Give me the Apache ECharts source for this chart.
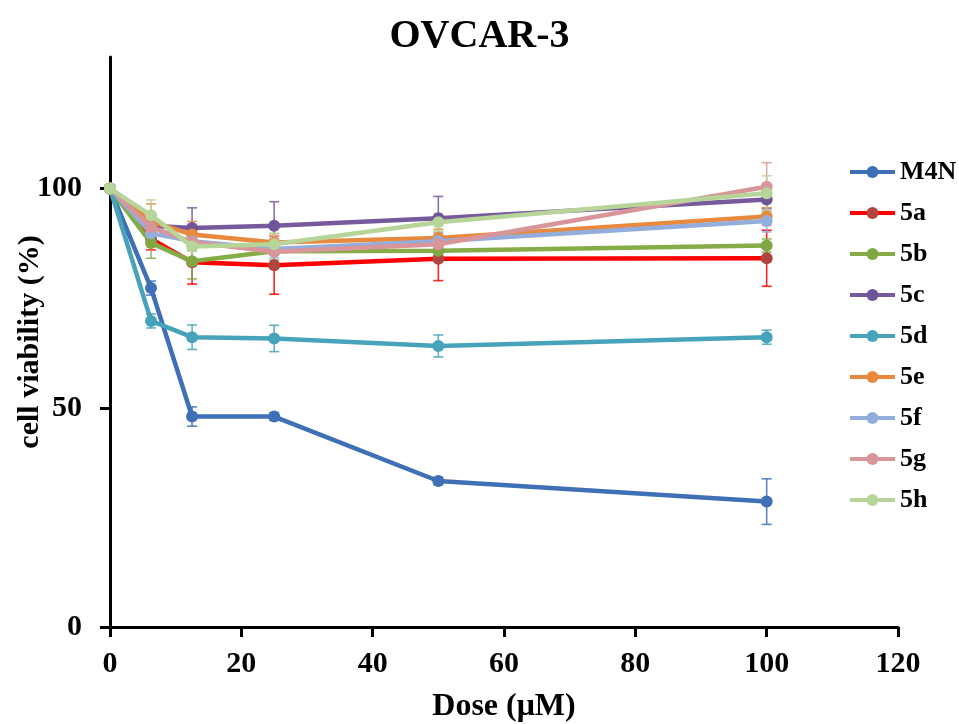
<!DOCTYPE html>
<html>
<head>
<meta charset="utf-8">
<script src="https://cdn.jsdelivr.net/npm/echarts@6/dist/echarts.min.js"></script>
<style>
html,body{margin:0;padding:0;background:#fff;}
#chart{width:959px;height:724px;}
</style>
</head>
<body>
<div id="chart"></div>
<script>
// ---- data ----
const doses = [0, 6.25, 12.5, 25, 50, 100];
const seriesNames = ['M4N', '5a', '5b', '5c', '5d', '5e', '5f', '5g', '5h'];
const M4N = [100, 77.3, 48.0, 48.0, 33.3, 28.6];
const M4N_err = [0, 1.6, 2.2, 0.9, 0.8, 5.2];
const s5a = [100, 88.5, 83.2, 82.5, 84.0, 84.1];
const s5a_err = [0, 2.5, 5.0, 6.6, 5.0, 6.4];
const s5b = [100, 87.6, 83.4, 85.7, 85.8, 87.0];
const s5b_err = [0, 3.5, 4.0, 2.0, 1.5, 1.5];
const s5c = [100, 91.5, 91.0, 91.5, 93.2, 97.5];
const s5c_err = [0, 2.0, 4.6, 5.5, 5.0, 2.0];
const s5d = [100, 69.8, 66.1, 65.8, 64.1, 66.1];
const s5d_err = [0, 1.6, 2.8, 3.0, 2.5, 1.6];
const s5e = [100, 92.5, 89.5, 87.7, 88.7, 93.6];
const s5e_err = [0, 4.0, 3.0, 2.0, 2.0, 2.0];
const s5f = [100, 89.8, 88.0, 86.2, 88.0, 92.6];
const s5f_err = [0, 2.0, 2.0, 2.0, 2.0, 2.5];
const s5g = [100, 91.2, 87.8, 85.6, 87.3, 100.4];
const s5g_err = [0, 3.0, 2.0, 3.5, 2.5, 5.5];
const s5h = [100, 93.9, 86.8, 87.3, 92.3, 98.9];
const s5h_err = [0, 3.5, 3.0, 2.5, 2.0, 4.0];
const xTicks = [0, 20, 40, 60, 80, 100, 120];
const yTicks = [0, 50, 100];

const values = [M4N, s5a, s5b, s5c, s5d, s5e, s5f, s5g, s5h];
const errors = [M4N_err, s5a_err, s5b_err, s5c_err, s5d_err, s5e_err, s5f_err, s5g_err, s5h_err];
const lineColors = ['#3F6FB5', '#FF0000', '#86AC48', '#77599D', '#46A3BA', '#E8893D', '#93AEDC', '#D8969A', '#B7D599'];
const markerColors = ['#3F6FB5', '#B0443F', '#80A744', '#6F5598', '#46A3BA', '#E8893D', '#93AEDC', '#D8969A', '#B7D599'];

const FONT = '"Liberation Serif", "Times New Roman", serif';

const series = [];
// error bars first (drawn underneath)
seriesNames.forEach((name, k) => {
  const data = [];
  doses.forEach((d, i) => {
    if (errors[k][i] > 0) data.push([d, values[k][i] - errors[k][i], values[k][i] + errors[k][i]]);
  });
  const col = lineColors[k];
  series.push({
    type: 'custom',
    name: name + ' err',
    z: 1,
    silent: true,
    data: data,
    encode: { x: 0, y: [1, 2] },
    renderItem: function (params, api) {
      const x = api.value(0);
      const lo = api.coord([x, api.value(1)]);
      const hi = api.coord([x, api.value(2)]);
      const w = 5;
      const st = { stroke: col, lineWidth: 1.6, opacity: 0.85 };
      return {
        type: 'group',
        children: [
          { type: 'line', shape: { x1: hi[0], y1: hi[1], x2: lo[0], y2: lo[1] }, style: st },
          { type: 'line', shape: { x1: hi[0] - w, y1: hi[1], x2: hi[0] + w, y2: hi[1] }, style: st },
          { type: 'line', shape: { x1: lo[0] - w, y1: lo[1], x2: lo[0] + w, y2: lo[1] }, style: st }
        ]
      };
    }
  });
});
seriesNames.forEach((name, k) => {
  series.push({
    type: 'line',
    name: name,
    z: 2 + k * 0.01,
    data: doses.map((d, i) => [d, values[k][i]]),
    symbol: 'circle',
    symbolSize: 12,
    showAllSymbol: true,
    lineStyle: { color: lineColors[k], width: 4.5 },
    itemStyle: { color: markerColors[k] },
    emphasis: { disabled: true }
  });
});

const chart = echarts.init(document.getElementById('chart'), null, { renderer: 'canvas' });
chart.setOption({
  animation: false,
  backgroundColor: '#fff',
  title: {
    text: 'OVCAR-3',
    left: 'center',
    top: 12,
    textStyle: { fontFamily: FONT, fontWeight: 'bold', fontSize: 40, color: '#000' }
  },
  legend: {
    orient: 'vertical',
    left: 843,
    top: 154,
    itemWidth: 45,
    itemHeight: 15,
    itemGap: 15,
    data: seriesNames,
    lineStyle: { width: 4 },
    textStyle: { fontFamily: FONT, fontWeight: 'bold', fontSize: 26, color: '#000' }
  },
  grid: { left: 110, right: 61, top: 57, bottom: 97, containLabel: false, outerBoundsMode: 'none' },
  xAxis: {
    type: 'value',
    min: 0, max: 120, interval: 20,
    name: 'Dose (\u03bcM)',
    nameLocation: 'middle',
    nameGap: 64,
    nameMoveOverlap: false,
    nameTextStyle: { fontFamily: FONT, fontWeight: 'bold', fontSize: 32, color: '#000' },
    axisLine: { show: true, lineStyle: { color: '#000', width: 3 } },
    axisTick: { show: true, inside: false, length: 10, lineStyle: { color: '#000', width: 3 } },
    axisLabel: { margin: 22, fontFamily: FONT, fontWeight: 'bold', fontSize: 30, color: '#000', customValues: xTicks },
    splitLine: { show: false }
  },
  yAxis: {
    type: 'value',
    min: 0, max: 130, interval: 50,
    name: 'cell viability (%)',
    nameLocation: 'middle',
    nameGap: 65,
    nameMoveOverlap: false,
    nameTextStyle: { fontFamily: FONT, fontWeight: 'bold', fontSize: 30, color: '#000' },
    axisLine: { show: true, lineStyle: { color: '#000', width: 3 } },
    axisTick: { show: true, inside: false, length: 10, lineStyle: { color: '#000', width: 3 }, customValues: yTicks },
    axisLabel: { margin: 28, fontFamily: FONT, fontWeight: 'bold', fontSize: 30, color: '#000', customValues: yTicks },
    splitLine: { show: false }
  },
  series: series
});
</script>
</body>
</html>
